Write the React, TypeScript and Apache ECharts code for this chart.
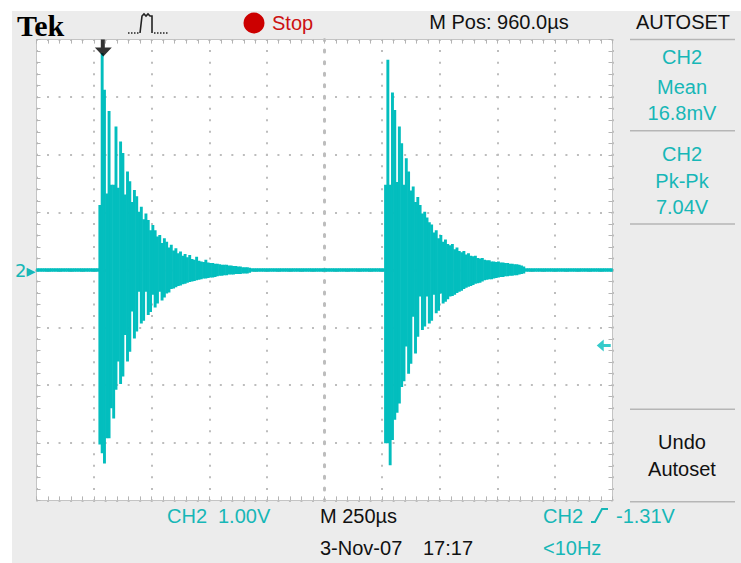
import React, { useEffect, useRef } from "react";
import * as echarts from "echarts";

// ---- data ----
// time axis in microseconds relative to screen centre, 250 us/div, 10 divisions
const timeMin = -1250;
const timeMax = 1250;
const timeDiv = 250;
// vertical axis in volts, 1 V/div, 8 divisions
const voltMin = -4;
const voltMax = 4;
const voltDiv = 1;
// the scope draws 250 columns, 10 us each; each column is a min/max bar
const columnWidthUs = 10;
const columnCount = 250;

// burst 1: per-column max / min (V), starting at this column time
const burst1StartUs = -980;
const burst1High = [
  1.10, 3.74, 3.10, 1.30, 2.73, 1.45, 1.45, 2.46, 1.40, 2.20,
  2.00, 1.28, 1.68, 1.51, 1.15, 1.36, 1.25, 0.98, 1.07, 0.85,
  0.95, 0.84, 0.66, 0.75, 0.66, 0.55, 0.58, 0.44, 0.52, 0.46,
  0.36, 0.41, 0.31, 0.35, 0.26, 0.29, 0.22, 0.25, 0.19, 0.23,
  0.16, 0.15, 0.20, 0.13, 0.12, 0.11, 0.15, 0.10, 0.09, 0.09,
  0.08, 0.08, 0.07, 0.06, 0.06, 0.06, 0.05, 0.05, 0.04, 0.04,
  0.03, 0.03, 0.02, 0.02, 0.02, 0.01,
];
const burst1Low = [
  -3.00, -3.15, -3.33, -2.89, -2.89, -2.37, -2.55, -2.05, -1.56, -1.95,
  -1.82, -1.10, -1.56, -1.39, -0.69, -1.16, -1.04, -0.35, -0.90, -0.85,
  -0.35, -0.75, -0.70, -0.40, -0.62, -0.55, -0.35, -0.50, -0.45, -0.38,
  -0.36, -0.30, -0.29, -0.27, -0.25, -0.24, -0.22, -0.21, -0.19, -0.18,
  -0.17, -0.16, -0.15, -0.14, -0.13, -0.12, -0.12, -0.11, -0.10, -0.10,
  -0.09, -0.08, -0.07, -0.07, -0.06, -0.06, -0.05, -0.05, -0.05, -0.04,
  -0.04, -0.04, -0.03, -0.03, -0.03, -0.02,
];

// burst 2
const burst2StartUs = 260;
const burst2High = [
  1.45, 3.62, 1.45, 3.05, 2.75, 1.50, 2.46, 2.17, 1.45, 1.91,
  1.68, 1.35, 1.42, 1.15, 1.24, 1.10, 0.95, 0.98, 0.88, 0.80,
  0.76, 0.62, 0.66, 0.52, 0.58, 0.46, 0.50, 0.42, 0.40, 0.42,
  0.33, 0.36, 0.30, 0.28, 0.30, 0.24, 0.26, 0.22, 0.21, 0.22,
  0.18, 0.17, 0.18, 0.15, 0.14, 0.14, 0.12, 0.12, 0.11, 0.12,
  0.10, 0.10, 0.09, 0.09, 0.08, 0.08, 0.07, 0.07, 0.06, 0.05,
  0.03,
];
const burst2Low = [
  -2.98, -2.98, -3.36, -2.92, -2.57, -2.45, -2.29, -2.00, -1.90, -1.30,
  -1.77, -1.60, -0.78, -1.42, -1.13, -0.43, -1.01, -0.95, -0.43, -0.90,
  -0.85, -0.40, -0.72, -0.68, -0.38, -0.55, -0.52, -0.48, -0.43, -0.42,
  -0.40, -0.37, -0.35, -0.33, -0.30, -0.28, -0.26, -0.25, -0.23, -0.21,
  -0.20, -0.19, -0.17, -0.15, -0.14, -0.13, -0.13, -0.12, -0.11, -0.10,
  -0.09, -0.09, -0.08, -0.08, -0.07, -0.07, -0.06, -0.06, -0.05, -0.04,
  -0.03,
];

const baselineLevel = 0;
const triggerTimeUs = -960; // "M Pos: 960.0us"
const triggerLevelV = -1.31;
const triggerLevelMarkerUs = 1212;
const channelMarkerV = 0;

const TRACE = "#03BEBE";
const CYAN_TEXT = "#17B7B7";
const GRID_GREY = "#bdbdbd";
const FONT = '"Liberation Sans", Arial, sans-serif';

function buildColumns(): number[][] {
  const cols: number[][] = [];
  for (let c = 0; c < columnCount; c++) {
    const t = timeMin + c * columnWidthUs;
    let lo = baselineLevel;
    let hi = baselineLevel;
    const i1 = Math.round((t - burst1StartUs) / columnWidthUs);
    if (i1 >= 0 && i1 < burst1High.length) {
      lo = burst1Low[i1];
      hi = burst1High[i1];
    }
    const i2 = Math.round((t - burst2StartUs) / columnWidthUs);
    if (i2 >= 0 && i2 < burst2High.length) {
      lo = burst2Low[i2];
      hi = burst2High[i2];
    }
    cols.push([t, lo, hi]);
  }
  return cols;
}

function txt(text: string, x: number, y: number, fill: string, align = "left", size = 20, extra: any = {}) {
  return {
    type: "text",
    x,
    y,
    silent: true,
    style: {
      text,
      fill,
      fontSize: size,
      fontFamily: FONT,
      align,
      verticalAlign: "middle",
      ...extra,
    },
  };
}

function hline(y: number) {
  return {
    type: "line",
    silent: true,
    shape: { x1: 630, y1: y, x2: 735, y2: y },
    style: { stroke: "#b6b6b6", lineWidth: 1.5 },
  };
}

export default function App() {
  const ref = useRef<HTMLDivElement>(null);

  useEffect(() => {
    if (!ref.current) return;
    const chart = echarts.init(ref.current, undefined, { renderer: "svg" });

    const dotStyle = { color: GRID_GREY, width: 2, type: [2, 9.52], dashOffset: 1 };
    const borderLine = { color: "#c4c4c4", width: 1 };
    const tickStyle = { color: "#b4b4b4", width: 1 };
    const centreLine = { color: GRID_GREY, width: 3, type: [2, 9.52], dashOffset: 1 };

    const baseX = {
      type: "value",
      min: timeMin,
      max: timeMax,
      interval: timeDiv,
      gridIndex: 0,
      axisLabel: { show: false },
    };
    const baseY = {
      type: "value",
      min: voltMin,
      max: voltMax,
      interval: voltDiv,
      gridIndex: 0,
    };

    const option: any = {
      animation: false,
      backgroundColor: "#ececec",
      grid: {
        left: 36.5,
        top: 39.6,
        width: 576,
        height: 460.8,
        show: true,
        backgroundColor: "#ffffff",
        borderWidth: 0,
      },
      xAxis: [
        {
          ...baseX,
          position: "bottom",
          axisLine: { show: true, onZero: false, lineStyle: borderLine },
          axisTick: { show: true, inside: true, length: 4, lineStyle: tickStyle },
          minorTick: { show: true, splitNumber: 5, length: 4, lineStyle: tickStyle },
          splitLine: { show: true, lineStyle: dotStyle },
        },
        {
          ...baseX,
          position: "top",
          axisLine: { show: true, onZero: false, lineStyle: borderLine },
          axisTick: { show: true, inside: true, length: 4, lineStyle: tickStyle },
          minorTick: { show: true, splitNumber: 5, length: 4, lineStyle: tickStyle },
          splitLine: { show: false },
        },
        {
          ...baseX,
          position: "bottom",
          axisLine: { show: true, onZero: true, lineStyle: centreLine },
          axisTick: { show: false },
          splitLine: { show: false },
        },
      ],
      yAxis: [
        {
          ...baseY,
          position: "left",
          axisLine: { show: true, onZero: false, lineStyle: borderLine },
          axisTick: { show: true, inside: true, length: 4, lineStyle: tickStyle },
          minorTick: { show: true, splitNumber: 5, length: 4, lineStyle: tickStyle },
          splitLine: { show: true, lineStyle: dotStyle },
          axisLabel: {
            show: true,
            margin: 1,
            color: CYAN_TEXT,
            fontSize: 18,
            fontFamily: '"DejaVu Sans", sans-serif',
            formatter: (v: number) => (v === channelMarkerV ? "2\u25B8" : ""),
          },
        },
        {
          ...baseY,
          position: "right",
          axisLine: { show: true, onZero: false, lineStyle: borderLine },
          axisTick: { show: true, inside: true, length: 4, lineStyle: tickStyle },
          minorTick: { show: true, splitNumber: 5, length: 4, lineStyle: tickStyle },
          splitLine: { show: false },
          axisLabel: { show: false },
        },
        {
          ...baseY,
          position: "left",
          axisLine: { show: true, onZero: true, lineStyle: centreLine },
          axisTick: { show: false },
          splitLine: { show: false },
          axisLabel: { show: false },
        },
      ],
      series: [
        {
          type: "custom",
          name: "CH2",
          xAxisIndex: 0,
          yAxisIndex: 0,
          clip: true,
          z: 3,
          data: buildColumns(),
          encode: { x: 0, y: [1, 2] },
          renderItem: (_params: any, api: any) => {
            const t = api.value(0);
            const lo = api.value(1);
            const hi = api.value(2);
            const p1 = api.coord([t, hi]);
            const p2 = api.coord([t + columnWidthUs, lo]);
            const pad = 1.7;
            return {
              type: "rect",
              shape: {
                x: p1[0] - 0.3,
                y: p1[1] - pad,
                width: p2[0] - p1[0] + 0.6,
                height: p2[1] - p1[1] + 2 * pad,
              },
              style: { fill: TRACE },
            };
          },
        },
        {
          type: "scatter",
          name: "trigger position",
          xAxisIndex: 0,
          yAxisIndex: 0,
          z: 5,
          clip: false,
          data: [[triggerTimeUs, voltMax]],
          symbol: "path://M6,0 L10,0 L10,8 L17,8 L8.5,17 L0,8 L6,8 Z",
          symbolSize: [17, 17],
          symbolOffset: [0, 8.5],
          itemStyle: { color: "#000000" },
        },
        {
          type: "scatter",
          name: "trigger level",
          xAxisIndex: 0,
          yAxisIndex: 0,
          z: 5,
          clip: false,
          data: [[triggerLevelMarkerUs, triggerLevelV]],
          symbol: "path://M0,6 L7,0 L7,4.5 L14,4.5 L14,7.5 L7,7.5 L7,12 Z",
          symbolSize: [14, 12],
          itemStyle: { color: TRACE },
        },
      ],
      graphic: [
        // white page margins around the screenshot
        { type: "rect", silent: true, shape: { x: 0, y: 0, width: 741, height: 11 }, style: { fill: "#ffffff" } },
        { type: "rect", silent: true, shape: { x: 0, y: 0, width: 12, height: 563 }, style: { fill: "#ffffff" } },
        // header
        {
          type: "text",
          x: 17,
          y: 25,
          silent: true,
          style: {
            text: "Tek",
            fill: "#000000",
            fontSize: 30,
            fontWeight: "bold",
            fontFamily: '"Liberation Serif", "DejaVu Serif", serif',
            align: "left",
            verticalAlign: "middle",
          },
        },
        {
          type: "polyline",
          silent: true,
          shape: { points: [[128, 33], [140, 33]] },
          style: { stroke: "#222", lineWidth: 1.5, lineDash: [1.5, 1.5], fill: null },
        },
        {
          type: "polyline",
          silent: true,
          shape: { points: [[140, 33], [142, 16], [144, 14], [146, 16], [148, 14], [150, 16], [152, 16], [152, 33]] },
          style: { stroke: "#222", lineWidth: 1.6, fill: null },
        },
        {
          type: "polyline",
          silent: true,
          shape: { points: [[154, 33], [168, 33]] },
          style: { stroke: "#222", lineWidth: 1.5, lineDash: [1.5, 1.5], fill: null },
        },
        { type: "circle", silent: true, shape: { cx: 254, cy: 23, r: 10.5 }, style: { fill: "#cc0000" } },
        txt("Stop", 272, 23, "#cc1111"),
        txt("M Pos: 960.0\u00B5s", 499, 22, "#111111", "center"),
        txt("AUTOSET", 683, 22, "#111111", "center"),
        // side panel
        hline(39.5),
        hline(130.7),
        hline(224),
        hline(409.3),
        hline(501.7),
        txt("CH2", 682, 57, CYAN_TEXT, "center"),
        txt("Mean", 682, 87, CYAN_TEXT, "center"),
        txt("16.8mV", 682, 113, CYAN_TEXT, "center"),
        txt("CH2", 682, 154, CYAN_TEXT, "center"),
        txt("Pk-Pk", 682, 181, CYAN_TEXT, "center"),
        txt("7.04V", 682, 207, CYAN_TEXT, "center"),
        txt("Undo", 682, 442, "#111111", "center"),
        txt("Autoset", 682, 469, "#111111", "center"),
        // footer
        txt("CH2", 167, 516, CYAN_TEXT),
        txt("1.00V", 218, 516, CYAN_TEXT),
        txt("M 250\u00B5s", 320, 516, "#111111"),
        txt("3-Nov-07", 320, 548, "#111111"),
        txt("17:17", 423, 548, "#111111"),
        txt("CH2", 543, 516, CYAN_TEXT),
        {
          type: "polyline",
          silent: true,
          shape: { points: [[591, 522], [595, 522], [602, 509], [608, 509]] },
          style: { stroke: CYAN_TEXT, lineWidth: 2, fill: null },
        },
        txt("-1.31V", 616, 516, CYAN_TEXT),
        txt("<10Hz", 543, 548, CYAN_TEXT),
      ],
    };

    chart.setOption(option);
    return () => chart.dispose();
  }, []);

  return (
    <div
      ref={ref}
      style={{ position: "fixed", left: 0, top: 0, width: 741, height: 563 }}
    />
  );
}
